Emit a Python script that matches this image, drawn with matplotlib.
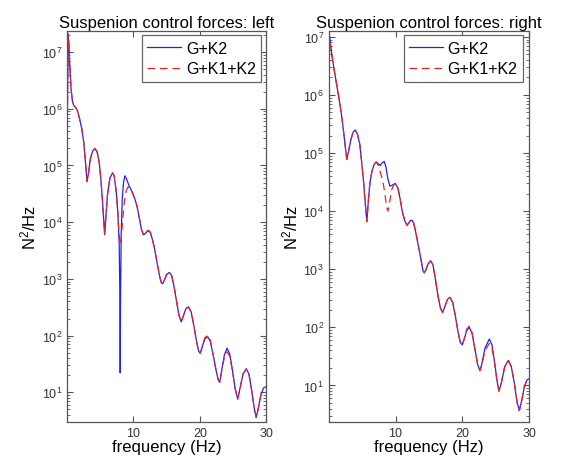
import matplotlib
matplotlib.use("Agg")
import matplotlib.pyplot as plt
from matplotlib.ticker import LogLocator, FixedLocator, NullLocator, LogFormatterMathtext

# ---------------- data ----------------
# left panel, G+K2
left_f_gk2 = [0.0, 0.08, 0.15, 0.25, 0.4, 0.6, 0.8, 1.0, 1.3, 1.6, 1.9, 2.2, 2.5, 2.75, 3.0,
              3.2, 3.5, 3.85, 4.2, 4.55, 4.85, 5.1, 5.35, 5.65, 5.85, 6.1, 6.45, 6.85, 7.1,
              7.4, 7.65, 7.85, 7.95, 8.0, 8.05, 8.15, 8.3, 8.5, 8.7, 8.95, 9.3, 9.7, 10.1,
              10.5, 10.9, 11.2, 11.5, 11.8, 12.05, 12.3, 12.55, 12.85, 13.2, 13.6, 13.95,
              14.2, 14.4, 14.65, 15.0, 15.4, 15.75, 16.1, 16.5, 16.85, 17.2, 17.5, 17.9,
              18.3, 18.7, 19.1, 19.5, 19.8, 20.05, 20.35, 20.75, 21.2, 21.6, 22.0, 22.4,
              22.75, 23.0, 23.3, 23.7, 24.1, 24.5, 24.9, 25.3, 25.7, 26.0, 26.5, 27.0,
              27.4, 27.8, 28.2, 28.5, 28.8, 29.2, 29.6, 30.0]
left_v_gk2 = [2.2e5, 3e6, 2.1e7, 1.5e7, 6e6, 2.2e6, 1.35e6, 1.15e6, 1.05e6, 9e5, 6.5e5, 4.5e5,
              2.6e5, 1.2e5, 5.2e4, 7e4, 1.3e5, 1.8e5, 2.0e5, 1.7e5, 1.1e5, 5.5e4, 2.2e4, 6e3,
              1.3e4, 3.2e4, 6e4, 7.4e4, 6.5e4, 3.5e4, 1.4e4, 4e3, 5e2, 22, 5e2, 6e3, 2.5e4,
              5e4, 6.6e4, 5.8e4, 4.5e4, 3.6e4, 2.8e4, 2e4, 1.15e4, 7.5e3, 6e3, 6.3e3, 6.9e3,
              7e3, 6.5e3, 5e3, 3.3e3, 1.8e3, 1.1e3, 8.6e2, 8.2e2, 9.5e2, 1.2e3, 1.3e3,
              1.15e3, 7.5e2, 4e2, 2.3e2, 1.75e2, 2.2e2, 3e2, 3.2e2, 2.6e2, 1.5e2, 8e1,
              5.4e1, 4.9e1, 6.3e1, 8.8e1, 9.5e1, 7.8e1, 4.6e1, 2.6e1, 1.7e1, 1.5e1, 2.5e1,
              4.6e1, 6e1, 4.8e1, 2.5e1, 1.2e1, 7.6, 1.1e1, 2.1e1, 2.6e1, 2.1e1, 1.1e1, 5.2,
              3.6, 5.2, 9, 1.2e1, 1.25e1]

# left panel, G+K1+K2
left_f_gk1k2 = [0.0, 0.08, 0.15, 0.25, 0.4, 0.6, 0.8, 1.0, 1.3, 1.6, 1.9, 2.2, 2.5, 2.75, 3.0,
                3.2, 3.5, 3.85, 4.2, 4.55, 4.85, 5.1, 5.35, 5.65, 5.85, 6.1, 6.45, 6.85, 7.1,
                7.4, 7.65, 7.85, 8.0, 8.15, 8.35, 8.6, 8.9, 9.2, 9.5, 9.8, 10.1,
                10.5, 10.9, 11.2, 11.5, 11.8, 12.05, 12.3, 12.55, 12.85, 13.2, 13.6, 13.95,
                14.2, 14.4, 14.65, 15.0, 15.4, 15.75, 16.1, 16.5, 16.85, 17.2, 17.5, 17.9,
                18.3, 18.7, 19.1, 19.5, 19.8, 20.05, 20.35, 20.75, 21.2, 21.6, 22.0, 22.4,
                22.75, 23.0, 23.3, 23.7, 24.1, 24.5, 24.9, 25.3, 25.7, 26.0, 26.5, 27.0,
                27.4, 27.8, 28.2, 28.5, 28.8, 29.2, 29.6, 30.0]
left_v_gk1k2 = [1.6e5, 2.5e6, 2.0e7, 1.5e7, 6e6, 2.2e6, 1.35e6, 1.15e6, 1.05e6, 9e5, 6.5e5, 4.5e5,
                2.6e5, 1.2e5, 5.2e4, 7e4, 1.3e5, 1.8e5, 2.0e5, 1.7e5, 1.1e5, 5.5e4, 2.2e4, 6.3e3,
                1.3e4, 3.2e4, 6e4, 7.4e4, 6.5e4, 3.5e4, 1.4e4, 6e3, 4e3, 5e3, 1e4, 2.2e4,
                3.6e4, 4.2e4, 3.9e4, 3.4e4, 2.8e4, 2e4, 1.15e4, 7.5e3, 6e3, 6.3e3, 7e3,
                7.2e3, 6.6e3, 5e3, 3.3e3, 1.8e3, 1.1e3, 8.6e2, 8.2e2, 9.5e2, 1.2e3, 1.3e3,
                1.15e3, 7.5e2, 4e2, 2.3e2, 1.75e2, 2.2e2, 3e2, 3.2e2, 2.6e2, 1.5e2, 8e1,
                5.4e1, 4.9e1, 6.3e1, 9.2e1, 1.02e2, 8.2e1, 4.6e1, 2.6e1, 1.7e1, 1.5e1, 2.4e1,
                4.2e1, 5.2e1, 4.3e1, 2.4e1, 1.2e1, 7.6, 1.1e1, 2.1e1, 2.6e1, 2.1e1, 1.1e1, 5.2,
                3.6, 5.2, 9, 1.2e1, 1.25e1]

# right panel, G+K2
right_f_gk2 = [0.0, 0.05, 0.1, 0.2, 0.4, 0.7, 1.1, 1.45, 1.8, 2.1, 2.4, 2.7, 2.95, 3.3, 3.65,
               3.95, 4.3, 4.65, 4.95, 5.2, 5.45, 5.7, 5.9, 6.15, 6.45, 6.8, 7.1, 7.4, 7.7,
               8.0, 8.3, 8.55, 8.85, 9.15, 9.5, 9.95, 10.35, 10.7, 11.0, 11.35, 11.7, 12.0,
               12.25, 12.45, 12.7, 13.0, 13.4, 13.8, 14.1, 14.3, 14.55, 14.9, 15.25, 15.6,
               15.95, 16.35, 16.75, 17.05, 17.35, 17.75, 18.15, 18.55, 18.95, 19.35, 19.7,
               20.0, 20.3, 20.65, 21.05, 21.45, 21.85, 22.3, 22.65, 22.95, 23.4, 24.05,
               24.45, 24.85, 25.2, 25.5, 25.85, 26.35, 26.9, 27.35, 27.8, 28.2, 28.55, 28.9,
               29.3, 29.7, 30.0]
right_v_gk2 = [1.9e6, 6e6, 1.05e7, 8.5e6, 5.5e6, 3.2e6, 1.7e6, 9.8e5, 5.5e5, 3e5, 1.5e5, 7.8e4,
               1.05e5, 1.7e5, 2.3e5, 2.5e5, 2.1e5, 1.4e5, 6.5e4, 3.3e4, 1.4e4, 6.6e3, 1.4e4,
               3e4, 4.8e4, 6.4e4, 7e4, 6.6e4, 6.1e4, 6.8e4, 7.2e4, 5.8e4, 3.6e4, 2.7e4, 2.8e4,
               3e4, 2.5e4, 1.6e4, 1e4, 7e3, 5.7e3, 6.3e3, 6.9e3, 7e3, 6.3e3, 4.5e3, 2.6e3,
               1.5e3, 9.5e2, 8.7e2, 9.8e2, 1.25e3, 1.4e3, 1.2e3, 7e2, 3.5e2, 2.1e2, 1.8e2,
               2.2e2, 3e2, 3.3e2, 2.7e2, 1.6e2, 8.5e1, 5.5e1, 5e1, 6.3e1, 8.8e1, 1e2, 8e1,
               4.5e1, 2.3e1, 1.8e1, 2.4e1, 4.4e1, 6.3e1, 5e1, 2.5e1, 1.2e1, 8, 1.1e1, 2.1e1,
               2.7e1, 2.1e1, 1.1e1, 5.2, 3.7, 5.5, 9.5, 1.25e1, 1.3e1]

# right panel, G+K1+K2
right_f_gk1k2 = [0.0, 0.05, 0.1, 0.2, 0.4, 0.7, 1.1, 1.45, 1.8, 2.1, 2.4, 2.7, 2.95, 3.3, 3.65,
                 3.95, 4.3, 4.65, 4.95, 5.2, 5.45, 5.7, 5.9, 6.15, 6.45, 6.8, 7.1, 7.4, 7.75,
                 8.1, 8.4, 8.65, 8.85, 9.1, 9.4, 9.7, 9.95, 10.35, 10.7, 11.0, 11.35, 11.7, 12.0,
                 12.25, 12.45, 12.7, 13.0, 13.4, 13.8, 14.1, 14.3, 14.55, 14.9, 15.25, 15.6,
                 15.95, 16.35, 16.75, 17.05, 17.35, 17.75, 18.15, 18.55, 18.95, 19.35, 19.7,
                 20.0, 20.3, 20.65, 21.05, 21.45, 21.85, 22.3, 22.65, 22.95, 23.4, 24.05,
                 24.45, 24.85, 25.2, 25.5, 25.85, 26.35, 26.9, 27.35, 27.8, 28.2, 28.55, 28.9,
                 29.3, 29.7, 30.0]
right_v_gk1k2 = [1.4e6, 5e6, 9e6, 8e6, 5.5e6, 3.2e6, 1.7e6, 9.8e5, 5.5e5, 3e5, 1.5e5, 7.8e4,
                 1.05e5, 1.7e5, 2.3e5, 2.5e5, 2.1e5, 1.4e5, 6.5e4, 3.3e4, 1.4e4, 6.6e3, 1.4e4,
                 3e4, 4.8e4, 6.4e4, 7e4, 6.2e4, 4.5e4, 3.3e4, 2e4, 1.2e4, 1e4, 1.4e4, 2.3e4,
                 2.8e4, 3e4, 2.5e4, 1.6e4, 1e4, 7e3, 5.7e3, 6.3e3, 7e3, 7.2e3, 6.4e3, 4.5e3, 2.6e3,
                 1.5e3, 9.5e2, 8.7e2, 9.8e2, 1.25e3, 1.4e3, 1.2e3, 7e2, 3.5e2, 2.1e2, 1.8e2,
                 2.2e2, 3e2, 3.3e2, 2.7e2, 1.6e2, 8.5e1, 5.5e1, 5e1, 6.5e1, 9.3e1, 1.05e2, 8.3e1,
                 4.5e1, 2.3e1, 1.8e1, 2.3e1, 4e1, 5.3e1, 4.4e1, 2.4e1, 1.2e1, 8, 1.1e1, 2.1e1,
                 2.7e1, 2.1e1, 1.1e1, 5.2, 3.7, 5.5, 9.5, 1.25e1, 1.3e1]

titles = ["Suspenion control forces: left", "Suspenion control forces: right"]
legend_labels = ["G+K2", "G+K1+K2"]
x_ticks = [10, 20, 30]
xlabel = "frequency (Hz)"
ylabel = "N$^2$/Hz"

# ---------------- figure ----------------
plt.rcParams['font.family'] = ['Liberation Sans', 'DejaVu Sans']
plt.rcParams['mathtext.fontset'] = 'custom'
plt.rcParams['mathtext.rm'] = 'Liberation Sans'
plt.rcParams['mathtext.it'] = 'Liberation Sans:italic'

fig = plt.figure(figsize=(5.64, 4.60), dpi=100)
ax_l = fig.add_axes([0.119, 0.0804, 0.353, 0.850])
ax_r = fig.add_axes([0.583, 0.0804, 0.355, 0.850])

spine_c = '#555555'
panels = [
    (ax_l, left_f_gk2, left_v_gk2, left_f_gk1k2, left_v_gk1k2, (3.0, 2.35e7), titles[0], 0.975),
    (ax_r, right_f_gk2, right_v_gk2, right_f_gk1k2, right_v_gk1k2, (2.35, 1.26e7), titles[1], 0.97),
]
for ax, fb, vb, fr, vr, ylim, title, lx in panels:
    ax.plot(fb, vb, color='#2222ee', lw=0.9, label=legend_labels[0])
    ax.plot(fr, vr, color='#ee2222', lw=0.9, ls=(0, (6, 4)), label=legend_labels[1])
    ax.set_yscale('log')
    ax.set_xlim(0, 30)
    ax.set_ylim(*ylim)
    ax.xaxis.set_major_locator(FixedLocator(x_ticks))
    ax.xaxis.set_minor_locator(NullLocator())
    ax.yaxis.set_major_locator(LogLocator(base=10, numticks=12))
    ax.yaxis.set_minor_locator(LogLocator(base=10, subs=range(2, 10), numticks=12))
    ax.yaxis.set_major_formatter(LogFormatterMathtext())
    ax.tick_params(which='both', direction='in', top=True, right=True,
                   colors=spine_c, labelcolor='#333333', labelsize=9)
    ax.tick_params(which='major', length=4, width=0.8)
    ax.tick_params(which='minor', length=2, width=0.6)
    for s in ax.spines.values():
        s.set_color(spine_c)
        s.set_linewidth(0.9)
    ax.set_title(title, fontsize=12, pad=3)
    ax.set_xlabel(xlabel, fontsize=12, labelpad=0)
    ax.set_ylabel(ylabel, fontsize=12, labelpad=2)
    leg = ax.legend(loc='upper right', bbox_to_anchor=(lx, 0.99), borderaxespad=0,
                    fancybox=False, edgecolor='#666666', framealpha=1, fontsize=11.5,
                    handlelength=2.1, handletextpad=0.3, labelspacing=0.35, borderpad=0.35)
    leg.get_frame().set_linewidth(0.9)

fig.savefig('out.png', dpi=100)
